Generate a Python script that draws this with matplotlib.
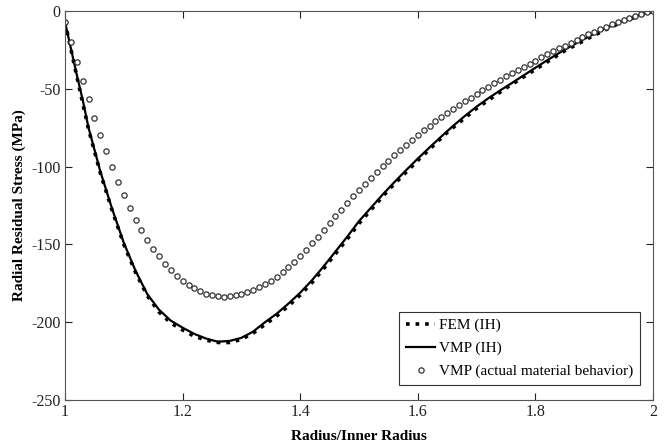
import numpy as np
import matplotlib
matplotlib.use("Agg")
import matplotlib.pyplot as plt

# ── Data ──────────────────────────────────────────────────────────────────────
# VMP (IH), solid line
r_vmp = [1.00, 1.01, 1.02, 1.03, 1.04, 1.06, 1.08, 1.10, 1.12, 1.14, 1.16, 1.18,
         1.20, 1.22, 1.24, 1.26, 1.28, 1.30, 1.32, 1.34, 1.36, 1.38, 1.40, 1.42,
         1.44, 1.46, 1.48, 1.50, 1.52, 1.54, 1.56, 1.58, 1.60, 1.62, 1.64, 1.66,
         1.68, 1.70, 1.72, 1.74, 1.76, 1.78, 1.80, 1.82, 1.84, 1.86, 1.88, 1.90,
         1.92, 1.94, 1.96, 1.98, 2.00]
s_vmp = [-7, -24, -41, -57, -75, -103, -127, -149, -167, -182, -192, -199,
         -203.5, -207.5, -210.5, -212.5, -212, -210, -206, -200, -194.5, -188, -181, -173,
         -164, -154.5, -145, -135, -126.5, -118, -110, -102.3, -94.8, -87.6, -80.6, -73.8,
         -67.4, -61.4, -56, -51, -46.2, -41.3, -36.4, -31.6, -27, -22.6, -18.5, -14.6,
         -11, -7.7, -4.8, -2.2, 0]

# FEM (IH), dotted line
r_fem = [1.00, 1.02, 1.04, 1.06, 1.08, 1.10, 1.12, 1.14, 1.16, 1.18, 1.20, 1.22,
         1.24, 1.26, 1.28, 1.30, 1.32, 1.34, 1.36, 1.38, 1.40, 1.42, 1.44, 1.46,
         1.48, 1.50, 1.55, 1.60, 1.65, 1.70, 1.75, 1.80, 1.85, 1.90, 1.95, 2.00]
s_fem = [-7, -42, -76, -104, -128, -150, -168, -183, -193.5, -200.5, -205, -209,
         -211.5, -213, -213, -211, -207, -201.5, -196, -189.5, -182.5, -174.5, -165.5, -156,
         -146.5, -136.5, -115, -96, -78, -62.5, -49.5, -37.5, -25.5, -15.5, -6.5, 0]

# VMP (actual material behavior), open circles
r_act = [round(1.0 + 0.01 * i, 2) for i in range(101)]
s_act = [-6.9, -19.9, -32.7, -44.9, -56.8, -68.4, -79.7, -90.2, -100, -109.6,
         -118.2, -126.5, -134, -141, -147.4, -152.8, -157.7, -162.4, -166.7, -170.3,
         -173.5, -175.9, -178.2, -180.1, -181.6, -182.7, -183.3, -183.5, -183.3, -182.7,
         -181.8, -180.5, -179.3, -177.6, -175.6, -173.3, -170.7, -167.7, -164.5, -161.1,
         -157.5, -153.6, -149.1, -144.9, -140.8, -136.3, -132, -127.8, -123.3, -119,
         -115.2, -111.3, -107.3, -103.4, -99.8, -96.2, -92.7, -89.3, -86.1, -82.9,
         -79.7, -76.7, -73.7, -70.7, -68.2, -65.6, -63, -60.5, -58, -55.6,
         -53.2, -50.9, -48.6, -46.4, -44.2, -42, -39.9, -37.8, -35.8, -33.8,
         -31.8, -29.8, -27.8, -25.9, -24, -22.1, -20.2, -18.4, -16.6, -14.9,
         -13.2, -11.6, -10, -8.5, -7, -5.6, -4.3, -3, -1.8, -0.7,
         0]

x_ticks = [1, 1.2, 1.4, 1.6, 1.8, 2]
x_ticklabels = ["1", "1.2", "1.4", "1.6", "1.8", "2"]
y_ticks = [-250, -200, -150, -100, -50, 0]

# ── Plot ──────────────────────────────────────────────────────────────────────
plt.rcParams["font.family"] = ["Liberation Serif", "DejaVu Serif"]
plt.rcParams["axes.unicode_minus"] = False

fig = plt.figure(figsize=(6.67, 4.45), dpi=100)
ax = fig.add_axes([0.0975, 0.101, 0.8815, 0.874])

ax.plot(r_fem, s_fem, linestyle=":", color="black", lw=2.6, label="FEM (IH)")
ax.plot(r_vmp, s_vmp, linestyle="-", color="black", lw=1.6, label="VMP (IH)")
ax.plot(r_act, s_act, linestyle="none", marker="o", ms=3.8, mfc="white",
        mec="#333333", mew=0.9, label="VMP (actual material behavior)")

ax.set_xlim(1, 2)
ax.set_ylim(-250, 0)
ax.set_xticks(x_ticks)
ax.set_xticklabels(x_ticklabels)
ax.set_yticks(y_ticks)
ax.tick_params(direction="in", length=5, width=0.8, top=True, right=True,
               labelsize=11.5, pad=3, colors="#222222")
for sp in ax.spines.values():
    sp.set_color("#555555")
    sp.set_linewidth(0.8)

ax.set_xlabel("Radius/Inner Radius", fontsize=11, fontweight="bold", labelpad=7)
ax.set_ylabel("Radial Residual Stress (MPa)", fontsize=11, fontweight="bold", labelpad=4)

leg = ax.legend(loc="lower right", bbox_to_anchor=(0.978, 0.038), borderaxespad=0,
                fontsize=11, fancybox=False, framealpha=1, edgecolor="#333333",
                handlelength=1.9, handletextpad=0.25, labelspacing=0.6,
                borderpad=0.45)
leg.get_frame().set_linewidth(0.8)

plt.savefig("out.png", dpi=100)
plt.close()
